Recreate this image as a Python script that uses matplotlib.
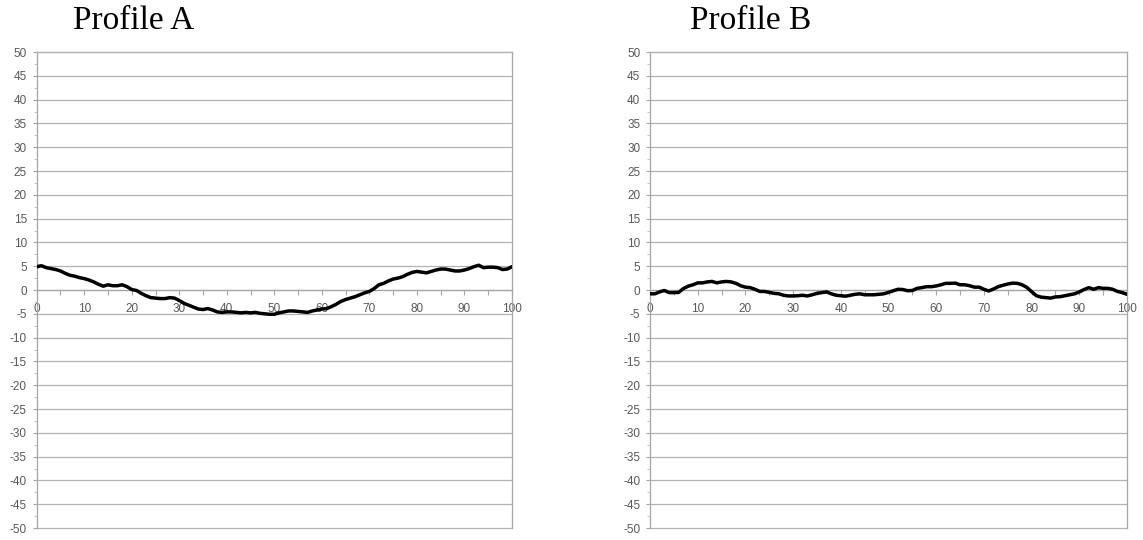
import matplotlib
matplotlib.use("Agg")
import matplotlib.pyplot as plt
from matplotlib.ticker import MultipleLocator, FixedLocator, FixedFormatter

plt.rcParams["axes.unicode_minus"] = False

# Profile positions (0..100) and elevations
x_pos = list(range(0, 101))

profile_a = [
    4.9, 5.1, 4.7, 4.5, 4.3, 4.0, 3.5, 3.1, 2.9, 2.6,
    2.4, 2.1, 1.7, 1.2, 0.8, 1.1, 0.9, 0.9, 1.1, 0.7,
    0.1, -0.1, -0.7, -1.2, -1.6, -1.7, -1.8, -1.8, -1.6, -1.7,
    -2.2, -2.8, -3.2, -3.6, -4.0, -4.1, -3.9, -4.2, -4.6, -4.7,
    -4.6, -4.6, -4.7, -4.8, -4.7, -4.8, -4.7, -4.9, -5.0, -5.1,
    -5.1, -4.8, -4.6, -4.4, -4.4, -4.5, -4.6, -4.7, -4.4, -4.2,
    -4.0, -3.9, -3.5, -3.0, -2.4, -2.0, -1.7, -1.4, -1.0, -0.6,
    -0.3, 0.3, 1.1, 1.4, 1.9, 2.3, 2.5, 2.8, 3.3, 3.7,
    3.9, 3.75, 3.6, 3.9, 4.2, 4.4, 4.4, 4.2, 4.0, 4.0,
    4.2, 4.5, 4.9, 5.2, 4.7, 4.8, 4.8, 4.7, 4.3, 4.4,
    4.9,
]

profile_b = [
    -0.8, -0.8, -0.4, -0.1, -0.55, -0.55, -0.5, 0.3, 0.8, 1.1,
    1.5, 1.5, 1.7, 1.8, 1.5, 1.7, 1.8, 1.7, 1.4, 0.9,
    0.6, 0.5, 0.15, -0.3, -0.3, -0.5, -0.7, -0.8, -1.1, -1.25,
    -1.25, -1.2, -1.1, -1.25, -1.0, -0.7, -0.55, -0.4, -0.8, -1.1,
    -1.2, -1.3, -1.1, -0.9, -0.8, -1.0, -1.0, -1.0, -0.9, -0.8,
    -0.5, -0.15, 0.15, 0.1, -0.15, -0.1, 0.35, 0.5, 0.7, 0.7,
    0.85, 1.1, 1.4, 1.4, 1.45, 1.1, 1.1, 0.9, 0.6, 0.6,
    0.15, -0.2, 0.2, 0.7, 1.0, 1.25, 1.45, 1.4, 1.1, 0.55,
    -0.35, -1.2, -1.5, -1.6, -1.7, -1.45, -1.4, -1.2, -1.0, -0.8,
    -0.4, 0.1, 0.5, 0.15, 0.5, 0.35, 0.35, 0.15, -0.3, -0.55,
    -0.9,
]

titles = ["Profile A", "Profile B"]
x_ticks = list(range(0, 101, 5))
x_labels = [str(v) if v % 10 == 0 else "" for v in x_ticks]
y_ticks = list(range(-50, 51, 5))

GRID = "#b3b3b3"
AXIS = "#a6a6a6"
LABEL = "#595959"

fig = plt.figure(figsize=(11.43, 5.4), dpi=100)
ax_a = fig.add_axes([0.0321, 0.0222, 0.4158, 0.8815])
ax_b = fig.add_axes([0.5687, 0.0222, 0.4173, 0.8815])

for ax, data, title, tx in [
    (ax_a, profile_a, titles[0], 0.064),
    (ax_b, profile_b, titles[1], 0.604),
]:
    ax.plot(x_pos, data, color="black", linewidth=2.5, solid_capstyle="round",
            solid_joinstyle="round", zorder=3)
    ax.set_xlim(0, 100)
    ax.set_ylim(-50, 50)

    ax.yaxis.set_major_locator(FixedLocator(y_ticks))
    ax.yaxis.set_minor_locator(MultipleLocator(2.5))
    ax.grid(axis="y", which="major", color=GRID, linewidth=0.9, zorder=1)
    for gl in ax.get_ygridlines():
        gl.set_clip_on(False)

    ax.xaxis.set_major_locator(FixedLocator(x_ticks))
    ax.xaxis.set_major_formatter(FixedFormatter(x_labels))

    ax.spines["bottom"].set_position(("data", 0))
    for side in ["bottom", "left", "right", "top"]:
        ax.spines[side].set_color(AXIS)
        ax.spines[side].set_linewidth(0.9)
    ax.spines["top"].set_color(GRID)

    ax.tick_params(axis="x", which="major", direction="out", length=3.5,
                   width=0.8, color=AXIS, labelcolor=LABEL, labelsize=8.5,
                   pad=6)
    ax.tick_params(axis="y", which="major", direction="out", length=3,
                   width=0.8, color=AXIS, labelcolor=LABEL, labelsize=8.5,
                   pad=4)
    ax.tick_params(axis="y", which="minor", direction="out", length=2,
                   width=0.8, color="#c8c8c8")
    for lbl in ax.get_xticklabels() + ax.get_yticklabels():
        lbl.set_fontfamily("Liberation Sans")

    fig.text(tx, 0.946, title, fontsize=24, family="Liberation Serif",
             ha="left", va="baseline")

fig.savefig("out.png", dpi=100)
